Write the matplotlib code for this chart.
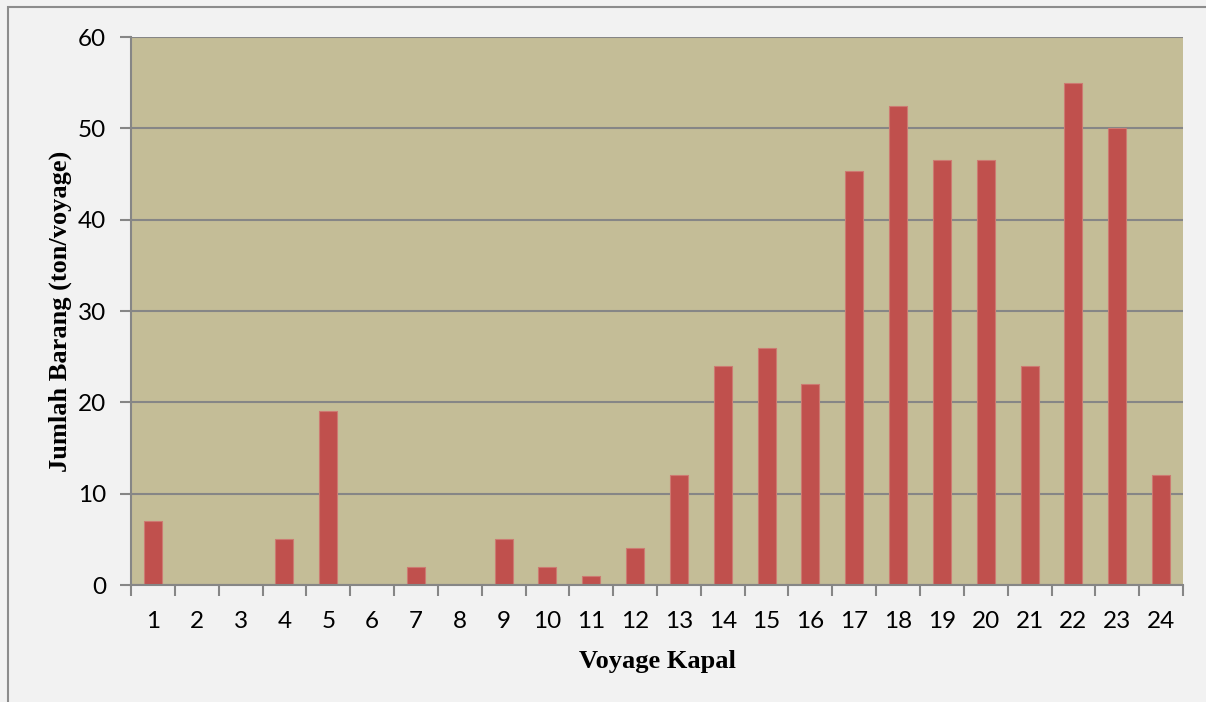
import numpy as np
import matplotlib.pyplot as plt
from matplotlib.patches import Rectangle

voyage = [str(i) for i in range(1, 25)]
jumlah = [7, 0, 0, 5, 19, 0, 2, 0, 5, 2, 1, 4, 12, 24, 26, 22, 45.3, 52.5, 46.5, 46.5, 24, 55, 50, 12]
y_ticks = [0, 10, 20, 30, 40, 50, 60]

W, H = 1206, 702
fig = plt.figure(figsize=(W / 100, H / 100), dpi=100)
fig.patch.set_facecolor('#f2f2f2')

# outer border (chart area)
fig.patches.append(Rectangle((8 / W, -0.1), 1.2, (H - 7) / H + 0.1, transform=fig.transFigure,
                             fill=False, edgecolor='#8c8c8c', linewidth=1.5))

ax = fig.add_axes([131 / W, 1 - 585 / H, (1183 - 131) / W, (585 - 37) / H])
ax.set_facecolor('#c4bd97')

x = np.arange(len(voyage))
ax.bar(x, jumlah, width=0.41, color='#c0504d', edgecolor='#cd7a72', linewidth=0.8, zorder=3)

ax.set_xlim(-0.5, len(voyage) - 0.5)
ax.set_ylim(0, 60)
ax.set_yticks(y_ticks)
ax.set_xticks(x)
ax.set_xticklabels(voyage)
ax.set_xticks(np.arange(-0.5, len(voyage), 1), minor=True)

ax.yaxis.grid(True, color='#868686', linewidth=1.5, zorder=1)
ax.set_axisbelow(True)

for s in ['top', 'right']:
    ax.spines[s].set_visible(False)
for s in ['left', 'bottom']:
    ax.spines[s].set_color('#868686')
    ax.spines[s].set_linewidth(1.5)
    ax.spines[s].set_zorder(4)

ax.tick_params(axis='x', which='major', length=0, pad=18.5, labelsize=17.5)
ax.tick_params(axis='x', which='minor', length=8, width=1.5, color='#868686')
ax.tick_params(axis='y', length=8, width=1.5, color='#868686', pad=10, labelsize=17.5)
for lab in ax.get_xticklabels() + ax.get_yticklabels():
    lab.set_family('Lato')

ax.set_xlabel('Voyage Kapal', fontfamily='Liberation Serif', fontweight='bold', fontsize=19, labelpad=13)
ax.set_ylabel('Jumlah Barang (ton/voyage)', fontfamily='Liberation Serif', fontweight='bold', fontsize=19, labelpad=4)

fig.savefig('out.png', dpi=100, facecolor=fig.get_facecolor())
